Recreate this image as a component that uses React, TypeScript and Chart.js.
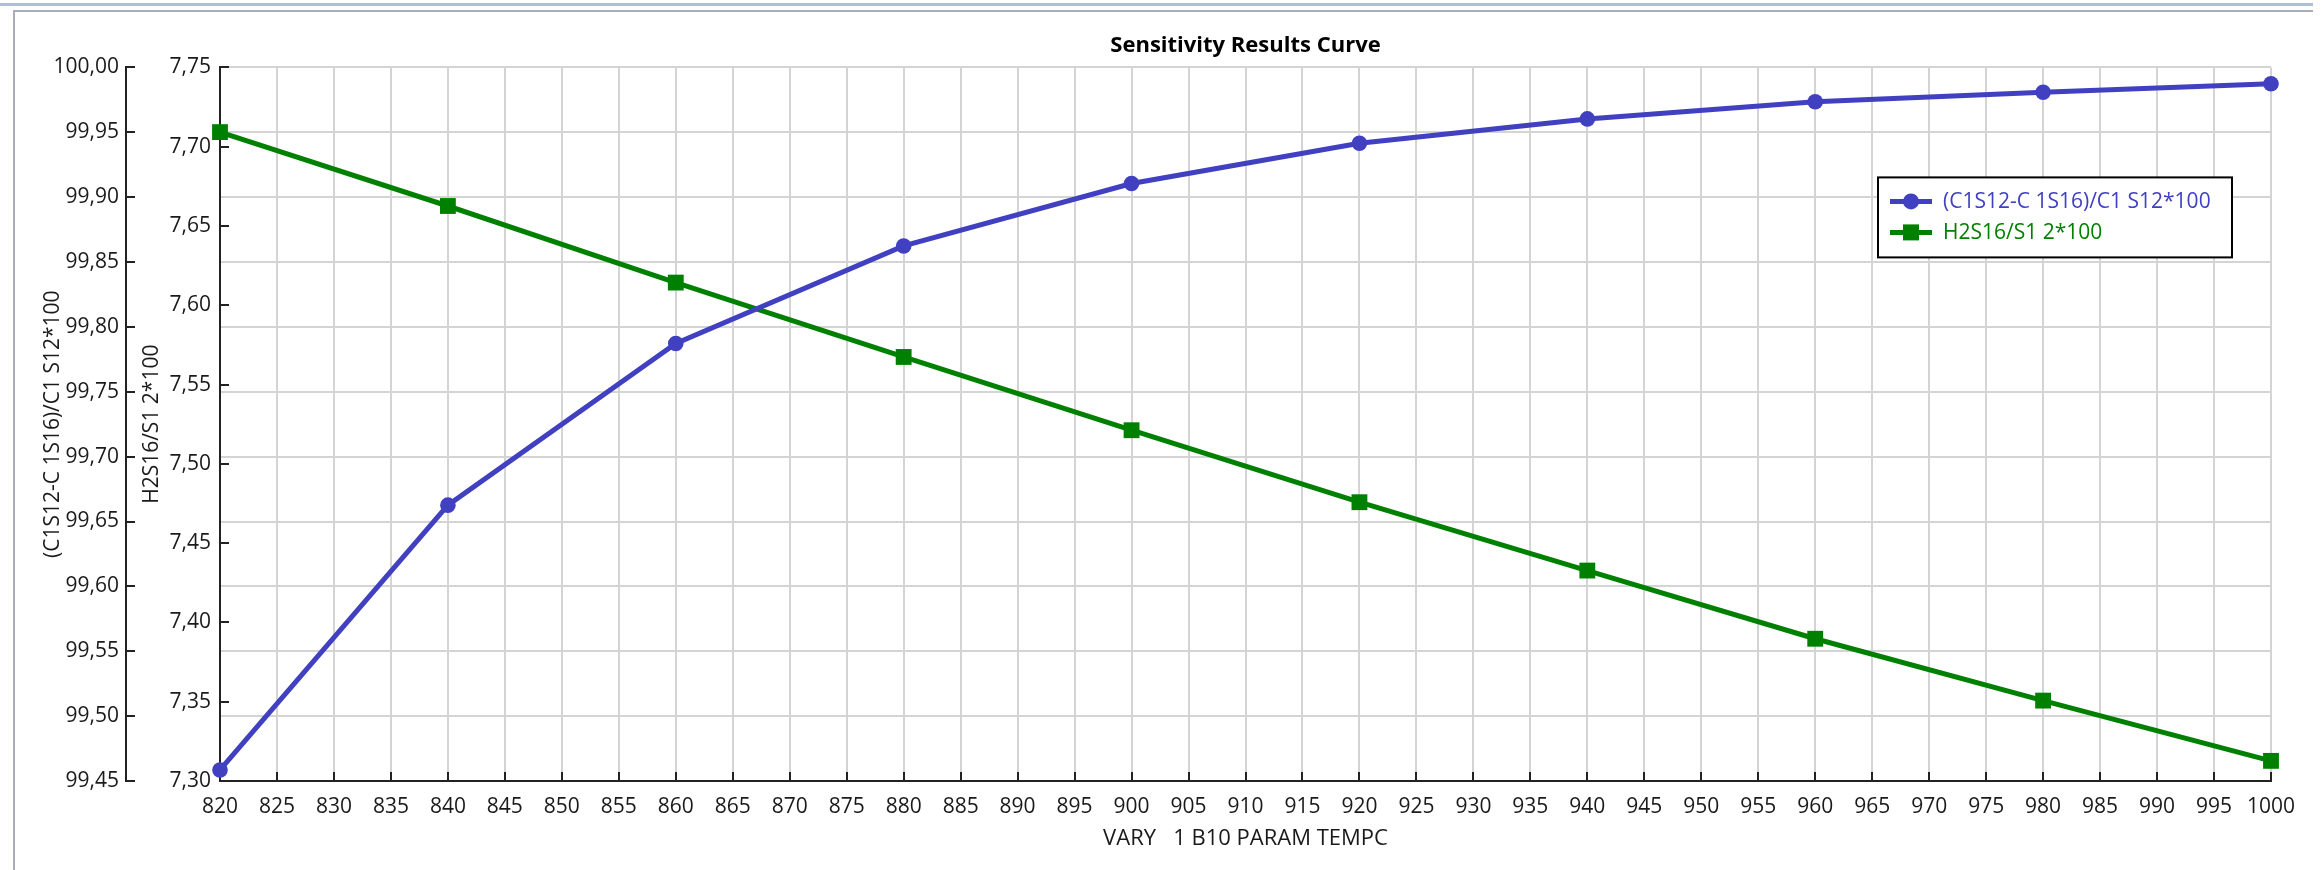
import React, { useEffect, useRef } from 'react';
import { Chart, registerables } from 'chart.js';

Chart.register(...registerables);

// ---- data ----
const tempValues = [820, 840, 860, 880, 900, 920, 940, 960, 980, 1000];
const ratioValues = [99.4585, 99.6626, 99.7872, 99.8624, 99.9105, 99.9415, 99.9603, 99.9735, 99.9808, 99.9874];
const h2sValues = [7.7092, 7.6626, 7.6143, 7.5674, 7.5212, 7.4758, 7.4327, 7.3897, 7.3507, 7.3127];
const seriesLabels = ['(C1S12-C 1S16)/C1 S12*100', 'H2S16/S1 2*100'];
const chartTitle = 'Sensitivity Results Curve';
const xAxisTitle = 'VARY   1 B10 PARAM TEMPC';
const xRange = [820, 1000];
const xStep = 5;
const ratioRange = [99.45, 100.0];
const h2sRange = [7.3, 7.75];
const yStep = 0.05;

const BLUE = 'rgb(64,64,192)';
const GREEN = 'rgb(0,128,0)';
const GRID = '#d4d4d4';
const AXIS = '#222222';
const TEXT = '#1a1a1a';
const FAMILY = '"Open Sans", "Noto Sans", sans-serif';

const fmt = (v: number | string) => Number(v).toFixed(2).replace('.', ',');

const legendPlugin = {
  id: 'boxLegend',
  afterDatasetsDraw(chart: any) {
    const { ctx, chartArea } = chart;
    const boxW = 354;
    const boxH = 80;
    const x0 = chartArea.right - 393;
    const y0 = chartArea.top + 110;
    ctx.save();
    ctx.fillStyle = '#ffffff';
    ctx.fillRect(x0, y0, boxW, boxH);
    ctx.lineWidth = 2;
    ctx.strokeStyle = '#000000';
    ctx.strokeRect(x0, y0, boxW, boxH);
    ctx.font = `21px ${FAMILY}`;
    ctx.textBaseline = 'middle';
    ctx.textAlign = 'left';
    chart.data.datasets.forEach((ds: any, i: number) => {
      const cy = y0 + 24 + i * 31;
      ctx.strokeStyle = ds.borderColor;
      ctx.lineWidth = 5;
      ctx.beginPath();
      ctx.moveTo(x0 + 12, cy);
      ctx.lineTo(x0 + 54, cy);
      ctx.stroke();
      ctx.fillStyle = ds.borderColor;
      if (ds.pointStyle === 'rect') {
        ctx.fillRect(x0 + 33 - 8, cy - 8, 16, 16);
      } else {
        ctx.beginPath();
        ctx.arc(x0 + 33, cy, 8, 0, Math.PI * 2);
        ctx.fill();
      }
      ctx.fillText(ds.label, x0 + 65, cy + 1);
    });
    ctx.restore();
  },
};

export default function App() {
  const ref = useRef<HTMLCanvasElement>(null);

  useEffect(() => {
    document.body.style.margin = '0';
    const canvas = ref.current;
    if (!canvas) return;
    const tickFont = { family: FAMILY, size: 21 };
    const chart = new Chart(canvas, {
      type: 'line',
      data: {
        datasets: [
          {
            label: seriesLabels[0],
            data: tempValues.map((x, i) => ({ x, y: ratioValues[i] })),
            yAxisID: 'yRatio',
            borderColor: BLUE,
            backgroundColor: BLUE,
            borderWidth: 5,
            pointStyle: 'circle',
            pointRadius: 7.8,
            pointBorderWidth: 0,
            pointBackgroundColor: BLUE,
            tension: 0,
            clip: false,
          } as any,
          {
            label: seriesLabels[1],
            data: tempValues.map((x, i) => ({ x, y: h2sValues[i] })),
            yAxisID: 'yH2S',
            borderColor: GREEN,
            backgroundColor: GREEN,
            borderWidth: 5,
            pointStyle: 'rect',
            pointRadius: 11.2,
            pointBorderWidth: 0,
            pointBackgroundColor: GREEN,
            tension: 0,
            clip: false,
          } as any,
        ],
      },
      options: {
        responsive: false,
        animation: false,
        layout: { padding: { left: 0, right: 52, top: 0, bottom: 0 } },
        plugins: {
          legend: { display: false },
          tooltip: { enabled: false },
          title: {
            display: true,
            text: chartTitle,
            fullSize: false,
            color: '#000000',
            font: { family: FAMILY, size: 22, weight: 'bold' },
            padding: { top: 33, bottom: 8 },
          },
        },
        scales: {
          x: {
            type: 'linear',
            position: 'bottom',
            min: xRange[0],
            max: xRange[1],
            ticks: {
              stepSize: xStep,
              autoSkip: false,
              maxRotation: 0,
              padding: 22,
              color: TEXT,
              font: tickFont,
              callback: (v: any) => String(v),
            },
            grid: { color: GRID, lineWidth: 2, tickLength: -9, tickColor: AXIS, tickWidth: 2 },
            border: { color: AXIS, width: 2 },
            title: {
              display: true,
              text: xAxisTitle,
              color: TEXT,
              font: { family: FAMILY, size: 22 },
              padding: { top: 0, bottom: 18 },
            },
            afterFit: (s: any) => {
              s.height = 89;
            },
          },
          yRatio: {
            type: 'linear',
            position: 'left',
            weight: 2,
            min: ratioRange[0],
            max: ratioRange[1],
            ticks: { stepSize: yStep, padding: 16, color: TEXT, font: tickFont, callback: fmt },
            grid: { color: GRID, lineWidth: 2, tickLength: -9, tickColor: AXIS, tickWidth: 2, drawOnChartArea: true },
            border: { color: AXIS, width: 2 },
            title: {
              display: true,
              text: seriesLabels[0],
              color: TEXT,
              font: tickFont,
              padding: { top: 40, bottom: 0 },
            },
            afterFit: (s: any) => {
              s.width = 126;
            },
          },
          yH2S: {
            type: 'linear',
            position: 'left',
            weight: 1,
            min: h2sRange[0],
            max: h2sRange[1],
            ticks: { stepSize: yStep, padding: 18, color: TEXT, font: tickFont, callback: fmt },
            grid: { color: GRID, lineWidth: 2, tickLength: -9, tickColor: AXIS, tickWidth: 2, drawOnChartArea: false },
            border: { color: AXIS, width: 2 },
            title: {
              display: true,
              text: seriesLabels[1],
              color: TEXT,
              font: tickFont,
              padding: { top: 13, bottom: 0 },
            },
            afterFit: (s: any) => {
              s.width = 94;
            },
          },
        },
      } as any,
      plugins: [legendPlugin],
    });
    return () => chart.destroy();
  }, []);

  return (
    <div style={{ position: 'relative', width: 2323, height: 870, background: '#ffffff', overflow: 'hidden' }}>
      <div style={{ position: 'absolute', left: 0, top: 3, width: 2313, height: 3, background: '#aebfd6' }} />
      <div
        style={{
          position: 'absolute',
          left: 13,
          top: 10,
          width: 2300,
          height: 880,
          borderLeft: '2px solid #a8aeb9',
          borderTop: '2px solid #a8aeb9',
          boxSizing: 'border-box',
        }}
      />
      <canvas ref={ref} width={2323} height={870} style={{ position: 'absolute', left: 0, top: 0 }} />
    </div>
  );
}
